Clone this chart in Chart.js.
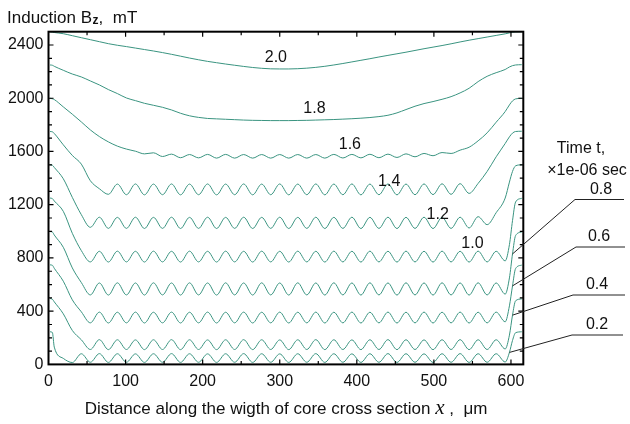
<!DOCTYPE html>
<html>
<head>
<meta charset="utf-8">
<script src="https://cdn.jsdelivr.net/npm/chart.js@4.4.1/dist/chart.umd.min.js"></script>
<style>
  html, body { margin: 0; padding: 0; background: #fff; }
  canvas { display: block; }
</style>
</head>
<body>
<canvas id="c" width="630" height="424"></canvas>
<script>
// ---- data ----
const timeLabels = ['0.2', '0.4', '0.6', '0.8', '1.0', '1.2', '1.4', '1.6', '1.8', '2.0'];

// distance x, micrometres (shared sample positions)
const xPositions = [
  2, 5, 7.5, 19.2, 30.9, 42.6, 54.3, 66, 77.7, 89.4,
  101.1, 112.8, 124.5, 136.2, 147.9, 159.6, 171.3, 183, 194.7, 206.4,
  218.1, 229.8, 241.5, 253.2, 264.9, 276.6, 288.3, 300, 311.7, 323.4,
  335.1, 346.8, 358.5, 370.2, 381.9, 393.6, 405.3, 417, 428.7, 440.4,
  452.1, 463.8, 475.5, 487.2, 498.9, 510.6, 522.3, 534, 545.7, 557.4,
  569.1, 580.8, 592.5, 598, 602, 606, 614
];

// induction Bz, mT, for each time
const b02 = [
  245, 240, 130, 45, 14, 80, 16, 81, 15, 80,
  16, 79, 15, 80, 16, 81, 15, 80, 16, 79,
  15, 80, 16, 81, 15, 80, 16, 79, 15, 80,
  16, 81, 15, 80, 16, 79, 15, 80, 16, 81,
  15, 80, 16, 79, 15, 80, 16, 81, 15, 80,
  16, 80, 18, 90, 180, 238, 245
];
const b04 = [
  495, 490, 470, 380, 255, 185, 112, 186, 111, 185,
  112, 184, 111, 185, 112, 186, 111, 185, 112, 184,
  111, 185, 112, 186, 111, 185, 112, 184, 111, 185,
  112, 186, 111, 185, 112, 184, 111, 185, 112, 186,
  111, 185, 112, 184, 111, 185, 112, 186, 111, 185,
  112, 185, 116, 220, 370, 478, 492
];
const b06 = [
  748, 745, 722, 625, 485, 395, 312, 393, 311, 392,
  312, 393, 311, 392, 312, 393, 311, 392, 312, 393,
  311, 392, 312, 393, 311, 392, 312, 393, 311, 392,
  312, 393, 311, 392, 312, 393, 311, 392, 312, 393,
  311, 392, 312, 393, 311, 392, 312, 393, 311, 392,
  312, 393, 320, 440, 590, 720, 746
];
const b08 = [
  998, 995, 972, 880, 725, 615, 522, 612, 521, 613,
  522, 612, 521, 613, 522, 612, 521, 613, 522, 612,
  521, 613, 522, 612, 521, 613, 522, 612, 521, 613,
  522, 612, 521, 613, 522, 612, 521, 613, 522, 612,
  521, 613, 522, 612, 521, 613, 522, 612, 521, 613,
  522, 612, 528, 650, 830, 968, 995
];
const b10 = [
  1250, 1246, 1228, 1150, 985, 855, 770, 850, 769, 851,
  770, 850, 769, 851, 770, 850, 769, 851, 770, 850,
  769, 851, 770, 850, 769, 851, 770, 850, 769, 851,
  770, 850, 769, 851, 770, 850, 769, 851, 770, 850,
  769, 851, 770, 850, 769, 851, 770, 850, 769, 851,
  770, 850, 778, 900, 1080, 1220, 1248
];
const b12 = [
  1500, 1497, 1480, 1395, 1255, 1125, 1030, 1106, 1022, 1105,
  1022, 1106, 1021, 1105, 1022, 1106, 1021, 1105, 1022, 1106,
  1021, 1105, 1022, 1106, 1021, 1105, 1022, 1106, 1021, 1105,
  1022, 1106, 1021, 1105, 1022, 1106, 1021, 1105, 1022, 1106,
  1021, 1105, 1022, 1106, 1021, 1105, 1022, 1106, 1025, 1110,
  1050, 1140, 1250, 1370, 1450, 1492, 1500
];
const b14 = [
  1750, 1748, 1735, 1650, 1570, 1505, 1380, 1320, 1278, 1355,
  1275, 1356, 1274, 1355, 1275, 1356, 1274, 1355, 1275, 1356,
  1274, 1355, 1275, 1356, 1274, 1355, 1275, 1356, 1274, 1355,
  1275, 1356, 1274, 1355, 1275, 1356, 1274, 1355, 1275, 1356,
  1274, 1355, 1275, 1356, 1276, 1357, 1278, 1358, 1285, 1360,
  1450, 1560, 1660, 1710, 1738, 1750, 1752
];
const b16 = [
  2000, 1996, 1990, 1935, 1880, 1822, 1762, 1712, 1672, 1640,
  1618, 1602, 1582, 1590, 1562, 1580, 1553, 1577, 1552, 1578,
  1550, 1578, 1550, 1577, 1550, 1577, 1550, 1577, 1550, 1577,
  1550, 1577, 1550, 1578, 1551, 1578, 1552, 1579, 1553, 1580,
  1555, 1582, 1560, 1585, 1568, 1592, 1585, 1610, 1632, 1680,
  1740, 1820, 1900, 1950, 1980, 1995, 2000
];
const b18 = [
  2250, 2248, 2240, 2210, 2182, 2160, 2130, 2100, 2065, 2035,
  2002, 1982, 1962, 1947, 1932, 1912, 1887, 1868, 1856, 1848,
  1845, 1842, 1839, 1836, 1834, 1833, 1832, 1832, 1832, 1833,
  1834, 1836, 1838, 1840, 1843, 1846, 1850, 1855, 1862, 1872,
  1890, 1915, 1940, 1960, 1975, 1992, 2012, 2040, 2075, 2125,
  2165, 2192, 2216, 2235, 2245, 2250, 2252
];
const b20 = [
  2500, 2497, 2494, 2485, 2470, 2455, 2440, 2425, 2410, 2398,
  2388, 2377, 2366, 2355, 2343, 2330, 2316, 2302, 2289, 2277,
  2267, 2257, 2248, 2239, 2231, 2225, 2221, 2220, 2220, 2222,
  2226, 2232, 2240, 2250, 2261, 2273, 2285, 2297, 2310, 2322,
  2334, 2346, 2359, 2372, 2384, 2396, 2409, 2423, 2436, 2448,
  2460, 2472, 2484, 2491, 2496, 2499, 2500
];
const seriesValues = [b02, b04, b06, b08, b10, b12, b14, b16, b18, b20];

const xTickValues = [0, 100, 200, 300, 400, 500, 600];
const yTickValues = [0, 400, 800, 1200, 1600, 2000, 2400];

// ---- appearance ----
const FONT = '"Liberation Sans", Arial, Helvetica, sans-serif';
const LINE_COLOR = '#3a9480';
Chart.defaults.font.family = FONT;
Chart.defaults.color = '#111';

// labels placed on curves (data coordinates)
const curveLabels = [
  { text: '2.0', x: 295, y: 2303 },
  { text: '1.8', x: 345, y: 1921 },
  { text: '1.6', x: 391, y: 1651 },
  { text: '1.4', x: 442, y: 1376 },
  { text: '1.2', x: 505, y: 1126 },
  { text: '1.0', x: 550, y: 908 }
];
// callout labels on the right: series index, point index on the curve
const callouts = [
  { text: '0.8', series: 3, point: 54, tx: 601, ty: 190, ly: 199.5, x1: 575, x2: 624 },
  { text: '0.6', series: 2, point: 54, tx: 599, ty: 237, ly: 247, x1: 576, x2: 625 },
  { text: '0.4', series: 1, point: 54, tx: 597, ty: 285, ly: 295, x1: 573, x2: 625 },
  { text: '0.2', series: 0, point: 53, tx: 597, ty: 325, ly: 335, x1: 572, x2: 623 }
];

const decorations = {
  id: 'decorations',
  afterDraw(chart) {
    const { ctx, chartArea: a, scales } = chart;
    const xs = scales.x, ys = scales.y;
    ctx.save();
    // frame
    ctx.strokeStyle = '#000';
    ctx.lineWidth = 2;
    ctx.strokeRect(a.left, a.top, a.right - a.left, a.bottom - a.top);
    // inward ticks
    ctx.lineWidth = 1.2;
    ctx.beginPath();
    for (let v = 50; v <= 600; v += 50) {
      const px = xs.getPixelForValue(v);
      const len = v % 100 === 0 ? 5 : 3.5;
      ctx.moveTo(px, a.bottom); ctx.lineTo(px, a.bottom - len);
      ctx.moveTo(px, a.top); ctx.lineTo(px, a.top + len);
    }
    for (let v = 100; v < 2500; v += 100) {
      const py = ys.getPixelForValue(v);
      const len = v % 400 === 0 ? 5 : 3.5;
      ctx.moveTo(a.left, py); ctx.lineTo(a.left + len, py);
      ctx.moveTo(a.right, py); ctx.lineTo(a.right - len, py);
    }
    ctx.stroke();

    // curve labels
    ctx.fillStyle = '#111';
    ctx.font = '16px ' + FONT;
    ctx.textAlign = 'center';
    ctx.textBaseline = 'middle';
    curveLabels.forEach(l => {
      ctx.fillText(l.text, xs.getPixelForValue(l.x), ys.getPixelForValue(l.y));
    });

    // right-side callouts
    ctx.fillText('Time t,', 581, 149);
    ctx.fillText('\u00d71e-06 sec', 587, 171);
    ctx.strokeStyle = '#222';
    ctx.lineWidth = 1;
    callouts.forEach(c => {
      const pt = chart.getDatasetMeta(c.series).data[c.point];
      ctx.fillText(c.text, c.tx, c.ty);
      ctx.beginPath();
      ctx.moveTo(c.x2, c.ly);
      ctx.lineTo(c.x1, c.ly);
      ctx.lineTo(pt.x, pt.y);
      ctx.stroke();
    });

    // y-axis title (top left)
    ctx.textAlign = 'left';
    ctx.textBaseline = 'alphabetic';
    ctx.font = '17px ' + FONT;
    let x = 7;
    const base = 23;
    ctx.fillText('Induction B', x, base);
    x += ctx.measureText('Induction B').width;
    ctx.font = 'bold 12px ' + FONT;
    ctx.fillText('z', x + 0.5, base + 1);
    x += ctx.measureText('z').width + 0.5;
    ctx.font = '17px ' + FONT;
    ctx.fillText(',  mT', x, base);

    // x-axis title
    const p1 = 'Distance along the wigth of core cross section ';
    const p2 = 'x';
    const p3 = ' ,  \u03bcm';
    const f1 = '17px ' + FONT;
    const f2 = 'italic 21px "Liberation Serif", "Times New Roman", serif';
    ctx.font = f1; const w1 = ctx.measureText(p1).width, w3 = ctx.measureText(p3).width;
    ctx.font = f2; const w2 = ctx.measureText(p2).width;
    let sx = 286 - (w1 + w2 + w3) / 2;
    const bl = 414;
    ctx.font = f1; ctx.fillText(p1, sx, bl); sx += w1;
    ctx.font = f2; ctx.fillText(p2, sx, bl); sx += w2;
    ctx.font = f1; ctx.fillText(p3, sx, bl);
    ctx.restore();
  }
};

const datasets = seriesValues.map((vals, s) => ({
  label: timeLabels[s],
  data: xPositions.map((xv, i) => ({ x: xv, y: vals[i] })),
  borderColor: LINE_COLOR,
  borderWidth: 1,
  pointRadius: 0,
  fill: false,
  cubicInterpolationMode: 'monotone'
}));

new Chart(document.getElementById('c'), {
  type: 'line',
  data: { datasets },
  options: {
    responsive: false,
    devicePixelRatio: 1,
    animation: false,
    events: [],
    layout: { padding: { left: 0, top: 31.7, right: 106.7, bottom: 0 } },
    plugins: { legend: { display: false }, tooltip: { enabled: false } },
    scales: {
      x: {
        type: 'linear',
        min: 0,
        max: 616,
        afterFit(scale) { scale.height = 59.6; },
        afterBuildTicks(scale) { scale.ticks = xTickValues.map(v => ({ value: v })); },
        grid: { display: false, drawTicks: false },
        border: { display: false },
        ticks: {
          padding: 8,
          maxRotation: 0,
          autoSkip: false,
          font: { size: 16 },
          color: '#111',
          callback: v => String(v)
        }
      },
      y: {
        type: 'linear',
        min: 0,
        max: 2500,
        afterFit(scale) { scale.width = 48.5; },
        afterBuildTicks(scale) { scale.ticks = yTickValues.map(v => ({ value: v })); },
        grid: { display: false, drawTicks: false },
        border: { display: false },
        ticks: {
          padding: 5,
          autoSkip: false,
          font: { size: 16 },
          color: '#111',
          callback: v => String(v)
        }
      }
    }
  },
  plugins: [decorations]
});
</script>
</body>
</html>
